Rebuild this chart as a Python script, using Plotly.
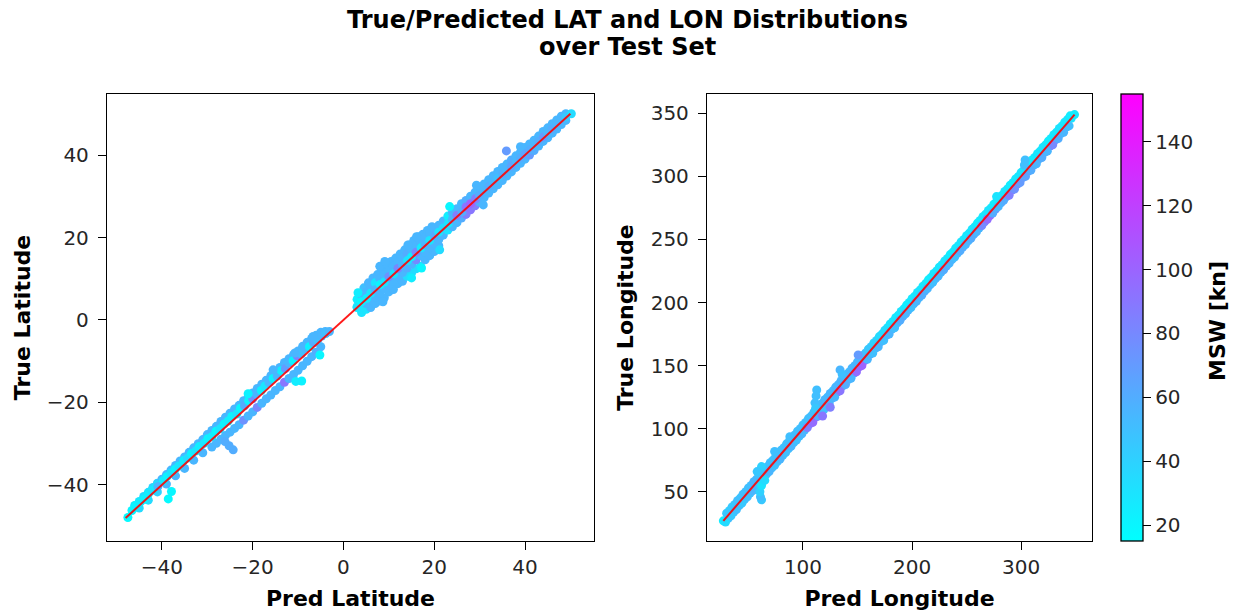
import plotly.graph_objects as go

W, H = 1236, 611

# Latitude panel, band edges (drawn first)
lat_edge_pred = [
 -46,-45,-44,-43,-42,-41,-40,-39,-38,-37,-36,-35,-34,-33,-32,-31,-30,-29,-28,-27,-26,-25,-24,-23,-22,-21,-20,-19,-18,-17,-16,-15,-14,-13,-12,-11,-10,-9,-8,-7,-6,-5,-4,
 -45,-43,-41,-39,-37,-35,-33,-31,-29,-28,-27,-26,-25,-24,-23,-22,-21,-20,-19,-18,-17,-16,-15,-14,-13,-12,-11,-10,-9,-8,-7,-6,-5,
 3.5,4.5,5.5,6.5,7.5,8.5,9.5,10.5,11.5,12.5,13.5,14.5,15.5,16.5,17.5,18.5,19.5,
 3,4,5,6,7,8,9,10,11,12,13,14,15,16,17,18,19,20,
 4,5,6,7,8,9,10,11,12,13,14,15,16,17,18,19,20,21,
 3,4,5,6,7,8,9,10,11,12,13,14,15,16,17,18,19,20,21,
 21,22,23,24,25,26,27,28,29,30,31,32,33,34,35,36,37,38,39,40,41,42,43,44,45,46,47,48,49,
 21,22,23,24,25,26,27,28,29,30,31,32,33,34,35,36,37,38,39,40,41,42,43,44,45,46,47,48,49,
]
lat_edge_true = [
 -45,-44,-42.8,-41.8,-40.6,-39.6,-38.6,-37.5,-36.4,-35.3,-34.2,-33.2,-32.1,-31,-30,-29,-27.8,-26.8,-25.8,-24.6,-23.6,-22.6,-21.6,-20.7,-19.6,-18.7,-17.7,-16.6,-15.6,-14.6,-13.5,-12.5,-11.5,-10.3,-9.4,-8.4,-7.5,-6.4,-5.4,-4.5,-3.7,-3,-2.8,
 -45.6,-43.7,-41.7,-39.8,-37.8,-36,-34,-32.2,-30.8,-29.9,-28.9,-28,-27.2,-26.3,-25.4,-24.3,-23.3,-22.3,-21.2,-20.2,-19.1,-18.2,-17.1,-16.2,-15.1,-14.2,-13.2,-12.2,-11.1,-10,-8.9,-7.8,-6.5,
 6.5,7.8,9,10.2,11,12.5,13.5,14.2,15,16,17,18.2,19.3,20.2,20.8,21.7,22.6,
 5,6,6.8,8,9,10,11,12,13,14,15,16,17,18,19,20,21,22,
 1.8,2.6,3,4,4.6,5.4,6.8,7.4,8.8,9.4,10.6,11.4,12.4,13,14.6,15.6,16.6,18,
 3,3.2,4,4.8,5.6,6.4,7.5,8.4,9.4,10.6,11.5,12.6,13.5,14.6,15.6,16.4,17.5,18.6,19.6,
 23,24,25.2,26,27,28.2,29,30,31,32.2,33,34,35,36,37,37.8,38.8,39.8,40.7,41.8,42.7,43.6,44.6,45.7,46.6,47.6,48.5,49.4,50,
 19.6,20.6,21.8,22.6,23.6,24.7,25.6,26.7,27.7,28.6,29.7,30.8,31.8,32.8,33.8,34.9,35.9,37,38,39,40,41.1,42.2,43.3,44.2,45.3,46.3,47.4,48.4,
]
lat_edge_msw = [
 30,30,35,35,40,40,55,55,55,55,55,55,55,55,55,55,55,55,55,55,55,55,55,55,55,55,55,55,55,55,55,55,55,55,55,55,55,55,55,55,55,55,55,
 35,35,40,55,55,55,55,55,55,55,55,55,55,55,55,75,55,55,80,55,55,55,55,55,90,55,55,55,55,55,55,60,55,
 50,50,55,55,55,55,55,55,55,55,55,55,55,55,55,55,55,
 25,55,55,55,30,55,55,55,55,55,55,60,55,55,55,55,55,55,
 30,30,55,55,55,55,55,55,55,55,35,35,35,30,55,55,55,55,
 25,30,55,55,55,55,55,55,55,55,55,60,55,80,55,55,55,55,55,
 55,55,25,55,55,55,60,55,55,55,55,55,55,55,55,55,60,55,55,55,55,55,55,55,55,55,55,55,55,
 55,55,30,55,55,60,85,90,85,60,55,55,55,55,55,55,55,55,55,55,70,60,55,55,55,55,55,55,55,
]

# Latitude panel, band core and stray points
lat_pred = [
 -47.5,-46.6,-45.8,-44.7,-43.9,-43.0,-42.2,-41.3,-40.9,-39.7,-38.9,-38.0,-37.1,-36.3,-35.2,-34.4,-33.5,
 -32.6,-31.8,-30.7,-29.9,-29.0,-28.1,-27.2,-26.3,-25.4,-24.6,-23.5,-22.7,-21.8,-20.9,-20.0,-19.2,-18.1,
 -17.3,-16.4,-15.5,-14.6,-13.7,-12.8,-12.0,-11.1,-10.2,-9.3,-8.4,-7.5,-6.6,-5.7,-4.8,-3.9,-3.1,
 -24.3,-25.2,-26.1,-38.6,-37.9,-40.9,-9.2,-10.5,-5.2,-21.0,-15.5,-10.7,-6.7,
 3.0,3.9,5.1,6.0,7.0,8.1,9.0,10.0,11.1,12.0,13.0,14.1,15.0,16.0,17.1,18.0,19.0,20.1,21.0,22.0,23.1,24.0,
 25.0,26.1,27.0,28.0,29.1,30.0,31.0,32.1,33.0,34.0,35.1,36.0,37.0,38.1,39.0,40.0,41.1,42.0,43.0,44.1,45.0,
 46.0,47.1,48.0,49.0,50.2,
 3.2,8.0,9.1,14.2,16.1,23.4,29.3,35.9,39.0,8.7,15.0,17.2,21.2,30.8,
]
lat_true = [
 -47.9,-46.2,-45.0,-44.1,-43.5,-42.2,-41.3,-40.6,-40.2,-39.0,-38.0,-37.1,-36.2,-35.4,-34.1,-33.5,-32.4,
 -31.8,-30.7,-29.9,-28.8,-28.3,-27.0,-26.4,-25.2,-24.5,-23.4,-22.8,-21.4,-20.8,-19.6,-19.1,-17.9,-17.1,
 -16.0,-15.2,-14.2,-13.6,-12.3,-11.8,-10.4,-9.9,-8.7,-8.2,-6.9,-6.5,-5.5,-4.9,-3.9,-3.3,-2.8,
 -31.5,-30.5,-29.5,-43.4,-41.6,-40.4,-14.8,-14.9,-8.5,-17.9,-12.1,-8.0,-4.0,
 3.2,4.4,5.2,6.5,7.3,8.6,9.2,10.5,11.2,12.5,13.3,14.4,15.3,16.4,17.5,18.2,19.3,20.4,21.3,22.3,23.4,24.4,
 25.4,26.2,27.4,28.2,29.4,30.2,31.3,32.4,33.2,34.3,35.4,36.3,37.3,38.4,39.3,40.3,41.3,42.3,43.3,44.4,45.3,
 46.3,47.3,48.3,49.2,50.0,
 6.6,13.0,14.2,18.2,20.2,27.5,32.7,41.0,42.0,4.4,10.2,12.6,17.0,27.9,
]
lat_msw = [
 18,20,22,25,22,25,30,25,30,25,22,30,22,30,25,35,22,
 30,25,30,22,25,20,30,22,25,22,30,20,60,22,75,55,22,
 30,55,22,55,25,70,55,22,85,50,55,22,60,50,55,50,55,
 60,60,60,18,20,55,22,25,20,22,55,55,55,
 30,20,25,30,55,22,30,75,30,80,55,30,25,80,25,55,30,60,30,35,30,55,
 85,60,90,100,85,60,55,60,55,50,60,55,65,55,60,65,60,55,60,70,55,
 60,55,55,45,35,
 25,55,55,55,55,20,55,70,55,55,25,20,35,55,
]

# Longitude panel, band edges (drawn first)
lon_edge_pred = [
 32.5,37.5,42.5,47.5,52.5,57.5,62.5,67.5,72.5,77.5,82.5,87.5,92.5,97.5,102.5,107.5,112.5,117.5,122.5,127.5,132.5,137.5,142.5,147.5,152.5,157.5,162.5,167.5,172.5,177.5,
 182.5,187.5,192.5,197.5,202.5,207.5,212.5,217.5,222.5,227.5,232.5,237.5,242.5,247.5,252.5,257.5,262.5,267.5,272.5,277.5,282.5,287.5,292.5,297.5,302.5,307.5,312.5,317.5,322.5,327.5,332.5,337.5,342.5,
 31.5,36.5,41.5,46.5,51.5,56.5,61.5,66.5,71.5,76.5,81.5,86.5,91.5,96.5,101.5,106.5,111.5,116.5,121.5,126.5,131.5,136.5,141.5,146.5,151.5,156.5,161.5,166.5,171.5,176.5,
 181.5,186.5,191.5,196.5,201.5,206.5,211.5,216.5,221.5,226.5,231.5,236.5,241.5,246.5,251.5,256.5,261.5,266.5,271.5,276.5,281.5,286.5,291.5,296.5,301.5,306.5,311.5,316.5,321.5,326.5,331.5,336.5,341.5,
]
lon_edge_true = [
 35,40,45,50,55,60,65,70,75,80,85,90,95,100,105,110,115,120,125,130,135,140,145,150,155,160,165,170,175,180,
 185,190,195,200,205,210,215,220,225,230,235,240,245,250,255,260,265,270,275,280,285,290,295,300,305,310,315,320,325,330,335,340,345,
 29,34,39,44,49,54,59,64,69,74,79,84,89,94,99,104,109,114,119,124,129,134,139,144,149,154,159,164,169,174,
 179,184,189,194,199,204,209,214,219,224,229,234,239,244,249,254,259,264,269,274,279,284,289,294,299,304,309,314,319,324,329,334,339,
]
lon_edge_msw = [
 40,45,45,50,50,50,50,50,50,50,50,50,50,50,50,50,50,50,50,50,55,50,50,55,55,50,45,40,35,30,
 30,28,30,28,30,30,28,28,30,28,30,28,30,28,28,30,28,30,28,30,28,30,28,28,30,28,30,28,28,30,28,28,30,
 50,50,50,50,50,50,50,50,50,50,50,50,50,50,55,95,100,55,55,60,85,55,55,60,95,100,60,55,55,55,
 55,55,60,55,55,55,60,55,55,55,60,55,55,60,55,60,55,85,95,70,60,60,85,75,70,65,60,60,60,90,75,55,50,
]

# Longitude panel, band core and stray points
lon_pred = [
 27,32,37,42,47,52,57,62,66,71,76,81,86,91,96,101,106,111,116,121,126,131,136,141,146,151,156,161,166,171,
 176,181,186,191,196,201,206,211,216,221,226,231,236,241,246,251,256,261,266,271,276,281,286,291,296,301,
 306,311,316,321,326,331,336,341,346,349,
 30,35,40,45,50,55,60,65,70,75,80,85,90,95,100,105,110,115,120,125,130,135,140,145,150,155,160,165,170,175,
 180,185,190,195,200,205,210,215,220,225,230,235,240,245,250,255,260,265,270,275,280,285,290,295,300,305,
 310,315,320,325,330,335,340,345,
 29,34,39,44,49,54,59,64,69,74,79,84,89,94,99,104,109,114,119,124,129,134,139,144,149,154,159,164,169,174,
 179,184,189,194,199,204,209,214,219,224,229,234,239,244,249,254,259,264,269,274,279,284,289,294,299,304,
 309,314,319,324,329,334,339,344,
]
lon_true = [
 27,32,37,42,47,52,57,62,66,71,76,81,86,91,96,101,106,111,116,121,126,131,136,141,146,151,156,161,166,171,
 176,181,186,191,196,201,206,211,216,221,226,231,236,241,246,251,256,261,266,271,276,281,286,291,296,301,
 306,311,316,321,326,331,336,341,346,349,
 33,38,43,48,53,58,63,68,73,78,83,88,93,98,103,108,113,118,123,128,133,138,143,148,153,158,163,168,173,178,
 183,188,193,198,203,208,213,218,223,228,233,238,243,248,253,258,263,268,273,278,283,288,293,298,303,308,
 313,318,323,328,333,338,343,348,
 26,31,36,41,46,51,56,61,66,71,76,81,86,91,96,101,105,110,115,120,125,130,135,140,145,150,155,160,165,170,
 175,180,186,191,196,201,206,211,216,221,226,231,236,241,246,251,256,261,266,271,276,281,285,290,295,300,
 305,310,315,320,325,330,335,340,
]
lon_msw = [
 25,30,28,35,30,35,40,30,30,35,30,35,30,35,40,35,30,35,40,30,35,30,35,30,35,30,35,30,28,30,
 30,35,30,35,30,35,30,35,30,35,28,30,35,30,35,30,35,30,28,35,30,35,30,28,35,30,
 35,30,28,35,30,28,35,30,30,28,
 45,45,50,50,50,55,50,50,50,50,50,50,50,50,50,50,50,55,55,55,55,55,55,55,55,50,45,40,35,35,
 30,28,30,25,28,30,28,25,30,28,30,25,28,30,28,30,25,28,30,25,28,30,25,28,30,28,
 25,28,30,25,28,30,28,25,
 35,45,50,45,50,55,50,45,55,50,55,50,55,50,55,85,95,60,50,55,55,90,60,55,95,100,55,50,55,50,
 55,50,60,55,50,55,60,55,50,55,60,55,50,60,55,60,55,80,95,60,55,60,85,75,70,65,
 60,55,60,55,80,60,55,50,
]
lon_out_pred = [112.6,112.0,111.0,111.5,134,136,150.6,62,61,60.5,62,65,62,58,74,88,303.7,303,277.5,118,125]
lon_out_true = [130.7,126.0,120.5,116.0,146.6,143,158.5,43.6,46.0,50.0,55.0,59.0,70.0,66,82,93.7,313,309,284,110,117]
lon_out_msw = [50,50,50,45,55,50,70,45,50,40,30,35,40,45,50,50,50,50,30,90,85]

cb_ticks = [20, 40, 60, 80, 100, 120, 140]
msw_range = [15, 155]
cool = [[0, "rgb(0,255,255)"], [1, "rgb(255,0,255)"]]

lat_line = [-48, 50]
lon_line = [27, 349]

px = lambda v: v / W
py = lambda v: 1 - v / H

TICK = dict(family="DejaVu Sans", size=20, color="#262626")
LABEL = dict(family="DejaVu Sans", size=22, color="black", weight="bold")
TITLE = dict(family="DejaVu Sans", size=24, color="black", weight="bold")
MSIZE = 9
EDGE = 1.3


def marks(x, y, c, xa, ya, colorbar=None):
    m = dict(size=MSIZE, color=c, colorscale=cool, cmin=msw_range[0], cmax=msw_range[1], line=dict(width=0))
    if colorbar:
        m["colorbar"] = colorbar
    return go.Scatter(x=x, y=y, mode="markers", xaxis=xa, yaxis=ya, showlegend=False, marker=m)


def diag(v, xa, ya):
    return go.Scatter(x=v, y=v, mode="lines", xaxis=xa, yaxis=ya, showlegend=False,
                      line=dict(color="rgba(255,0,0,0.9)", width=2))


cbar = dict(
    x=px(1121), xanchor="left", xref="paper", y=py(541), yanchor="bottom", yref="paper",
    len=447 / H, lenmode="fraction", thickness=22, thicknessmode="pixels",
    tickvals=cb_ticks, ticks="outside", ticklen=8, tickwidth=EDGE, tickcolor="black",
    tickfont=TICK, outlinecolor="black", outlinewidth=EDGE, xpad=0, ypad=0,
)

fig = go.Figure()
fig.add_trace(marks(lat_edge_pred, lat_edge_true, lat_edge_msw, "x", "y"))
fig.add_trace(marks(lat_pred, lat_true, lat_msw, "x", "y"))
fig.add_trace(diag(lat_line, "x", "y"))
fig.add_trace(marks(lon_edge_pred, lon_edge_true, lon_edge_msw, "x2", "y2", cbar))
fig.add_trace(marks(lon_pred, lon_true, lon_msw, "x2", "y2"))
fig.add_trace(marks(lon_out_pred, lon_out_true, lon_out_msw, "x2", "y2"))
fig.add_trace(diag(lon_line, "x2", "y2"))


def axis(domain, rng, title, dtick, anchor, standoff, label_gap=0):
    return dict(
        domain=domain, range=rng, anchor=anchor, dtick=dtick, showgrid=False, zeroline=False,
        showline=True, mirror=True, linecolor="black", linewidth=EDGE,
        ticks="outside", ticklen=8, tickwidth=EDGE, tickcolor="black", tickfont=TICK,
        ticklabelstandoff=label_gap,
        title=dict(text=title, font=LABEL, standoff=standoff),
    )


def note(text, x, y, font, **kw):
    return dict(text=text, x=px(x), y=py(y), xref="paper", yref="paper", xanchor="center", yanchor="middle",
                showarrow=False, font=font, **kw)


ydom = [py(541), py(94)]
fig.update_layout(
    width=W, height=H, autosize=False, margin=dict(l=0, r=0, t=0, b=0),
    paper_bgcolor="white", plot_bgcolor="white",
    font=dict(family="DejaVu Sans"),
    xaxis=axis([px(107), px(594)], [-52.1, 55.2], "Pred Latitude", 20, "y", 12),
    yaxis=axis(ydom, [-53.6, 54.8], "True Latitude", 20, "x", 9, 5),
    xaxis2=axis([px(707), px(1092)], [12, 365], "Pred Longitude", 100, "y2", 12),
    yaxis2=axis(ydom, [11, 365.3], "True Longitude", 50, "x2", 10, 5),
    annotations=[
        note("True/Predicted LAT and LON Distributions", 627, 20, TITLE),
        note("over Test Set", 627, 47, TITLE),
        note("MSW [kn]", 1217, 321, LABEL, textangle=-90),
    ],
)

fig.write_html(
    "out.html",
    config={"displayModeBar": False},
    post_script="document.body.style.margin='0';document.body.style.overflow='hidden';",
)
